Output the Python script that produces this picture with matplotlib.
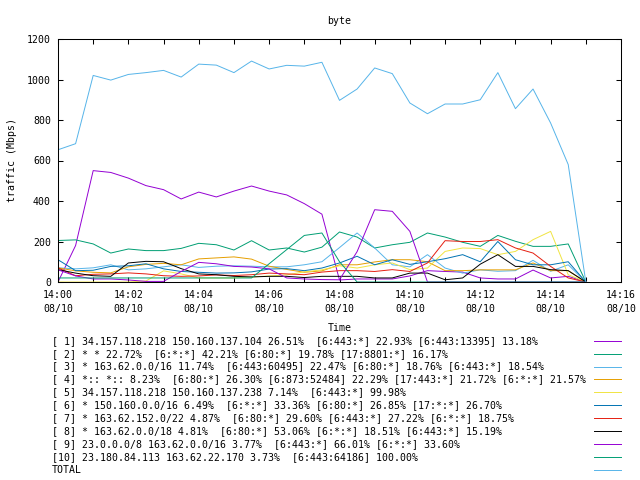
import matplotlib
matplotlib.use('Agg')
import matplotlib.pyplot as plt
import matplotlib.dates as mdates
from matplotlib.lines import Line2D
import pandas as pd

# amostras a cada 30 s, de 14:00 a 14:15
horas = pd.date_range('2015-08-10 14:00', periods=31, freq='30s')

s1 = [0, 180, 550, 541, 513, 476, 456, 410, 444, 420, 449, 474, 449, 430, 387, 335,
      10, 15, 15, 15, 30, 56, 52, 49, 20, 15, 15, 59, 20, 28, 0]
s2 = [205, 208, 188, 143, 163, 155, 155, 166, 191, 184, 158, 204, 158, 168, 148, 172,
      247, 222, 168, 184, 196, 242, 222, 196, 176, 230, 201, 176, 176, 188, 0]
s3 = [70, 65, 70, 85, 60, 65, 75, 85, 72, 78, 80, 78, 75, 75, 85, 100,
      170, 242, 168, 85, 75, 135, 69, 44, 60, 53, 56, 107, 53, 85, 0]
s4 = [70, 55, 48, 45, 75, 87, 92, 85, 114, 119, 124, 113, 78, 62, 48, 55,
      85, 85, 99, 110, 110, 100, 56, 56, 60, 60, 60, 94, 56, 56, 0]
s5 = [0, 0, 0, 0, 0, 5, 55, 40, 20, 20, 20, 25, 30, 35, 50, 60,
      80, 69, 85, 94, 61, 69, 151, 168, 165, 135, 151, 209, 250, 36, 0]
s6 = [110, 56, 58, 77, 80, 90, 65, 52, 48, 44, 45, 50, 64, 66, 56, 69,
      94, 127, 85, 110, 87, 100, 115, 135, 100, 200, 110, 85, 85, 100, 0]
s7 = [70, 31, 38, 40, 45, 40, 31, 28, 30, 35, 32, 36, 44, 40, 36, 49,
      56, 56, 52, 61, 52, 94, 204, 200, 200, 209, 168, 143, 77, 20, 0]
s8 = [61, 44, 31, 28, 94, 102, 100, 66, 40, 36, 28, 25, 28, 28, 22, 28,
      28, 28, 20, 20, 44, 44, 11, 20, 88, 135, 77, 77, 61, 56, 0]
s9 = [60, 30, 15, 15, 10, 3, 3, 52, 97, 90, 77, 74, 65, 20, 15, 12,
      11, 150, 357, 349, 250, 0, 0, 0, 0, 0, 0, 0, 0, 0, 0]
s10 = [20, 20, 20, 20, 20, 20, 20, 20, 20, 20, 20, 20, 90, 160, 230, 242,
       100, 0, 0, 0, 0, 0, 0, 0, 0, 0, 0, 0, 0, 0, 0]
total = [653, 683, 1020, 997, 1025, 1034, 1045, 1012, 1076, 1071, 1034, 1091, 1052, 1070, 1066, 1085,
         897, 953, 1057, 1029, 884, 831, 879, 879, 900, 1034, 856, 953, 785, 580, 0]

rotulos = [
    '[ 1] 34.157.118.218 150.160.137.104 26.51%  [6:443:*] 22.93% [6:443:13395] 13.18%',
    '[ 2] * * 22.72%  [6:*:*] 42.21% [6:80:*] 19.78% [17:8801:*] 16.17%',
    '[ 3] * 163.62.0.0/16 11.74%  [6:443:60495] 22.47% [6:80:*] 18.76% [6:443:*] 18.54%',
    '[ 4] *:: *:: 8.23%  [6:80:*] 26.30% [6:873:52484] 22.29% [17:443:*] 21.72% [6:*:*] 21.57%',
    '[ 5] 34.157.118.218 150.160.137.238 7.14%  [6:443:*] 99.98%',
    '[ 6] * 150.160.0.0/16 6.49%  [6:*:*] 33.36% [6:80:*] 26.85% [17:*:*] 26.70%',
    '[ 7] * 163.62.152.0/22 4.87%  [6:80:*] 29.60% [6:443:*] 27.22% [6:*:*] 18.75%',
    '[ 8] * 163.62.0.0/18 4.81%  [6:80:*] 53.06% [6:*:*] 18.51% [6:443:*] 15.19%',
    '[ 9] 23.0.0.0/8 163.62.0.0/16 3.77%  [6:443:*] 66.01% [6:*:*] 33.60%',
    '[10] 23.180.84.113 163.62.22.170 3.73%  [6:443:64186] 100.00%',
    'TOTAL',
]
cores = ['#9400d3', '#009e73', '#56b4e9', '#e69f00', '#f0e442', '#0072b2',
         '#e51e10', '#000000', '#9400d3', '#009e73', '#56b4e9']

plt.rcParams['font.family'] = 'DejaVu Sans Mono'
plt.rcParams['font.size'] = 7.1

W, H = 640, 480
fig = plt.figure(figsize=(6.4, 4.8), dpi=100)
ax = fig.add_axes([58 / W, 1 - 282 / H, (621 - 58) / W, (282 - 39) / H])

series = [s1, s2, s3, s4, s5, s6, s7, s8, s9, s10, total]
for vals, cor in zip(series, cores):
    ax.plot(horas, vals, color=cor, lw=0.7)

ax.set_xlim(pd.Timestamp('2015-08-10 14:00'), pd.Timestamp('2015-08-10 14:16'))
ax.set_ylim(0, 1200)
ax.set_yticks(range(0, 1201, 200))
ax.xaxis.set_major_locator(mdates.MinuteLocator(byminute=range(0, 60, 2)))
ax.xaxis.set_minor_locator(mdates.MinuteLocator())
ax.xaxis.set_major_formatter(mdates.DateFormatter('%H:%M\n%m/%d'))
ax.tick_params(which='both', direction='in', top=True, right=True,
               length=3.3, width=0.75, color='black', labelsize=7.1)
ax.tick_params(axis='y', pad=5)
ax.tick_params(axis='x', pad=6)
for lbl in ax.get_xticklabels():
    lbl.set_linespacing(1.45)
for sp in ax.spines.values():
    sp.set_linewidth(0.75)

ax.set_ylabel('traffic (Mbps)')
ax.yaxis.set_label_coords((17 - 58) / 563, 0.5)

fig.text(339.5 / W, 1 - 21 / H, 'byte', ha='center', va='center')
fig.text(339.5 / W, 1 - 328 / H, 'Time', ha='center', va='center')

# legenda no estilo do gnuplot: texto a esquerda, amostra da linha a direita
for i, (txt, cor) in enumerate(zip(rotulos, cores)):
    yy = 1 - (340.7 + 12.93 * i) / H
    fig.text(52 / W, yy, txt, ha='left', va='center')
    fig.add_artist(Line2D([594 / W, 621 / W], [yy, yy], color=cor, lw=0.7,
                          transform=fig.transFigure))

fig.savefig('out.png', dpi=100)
